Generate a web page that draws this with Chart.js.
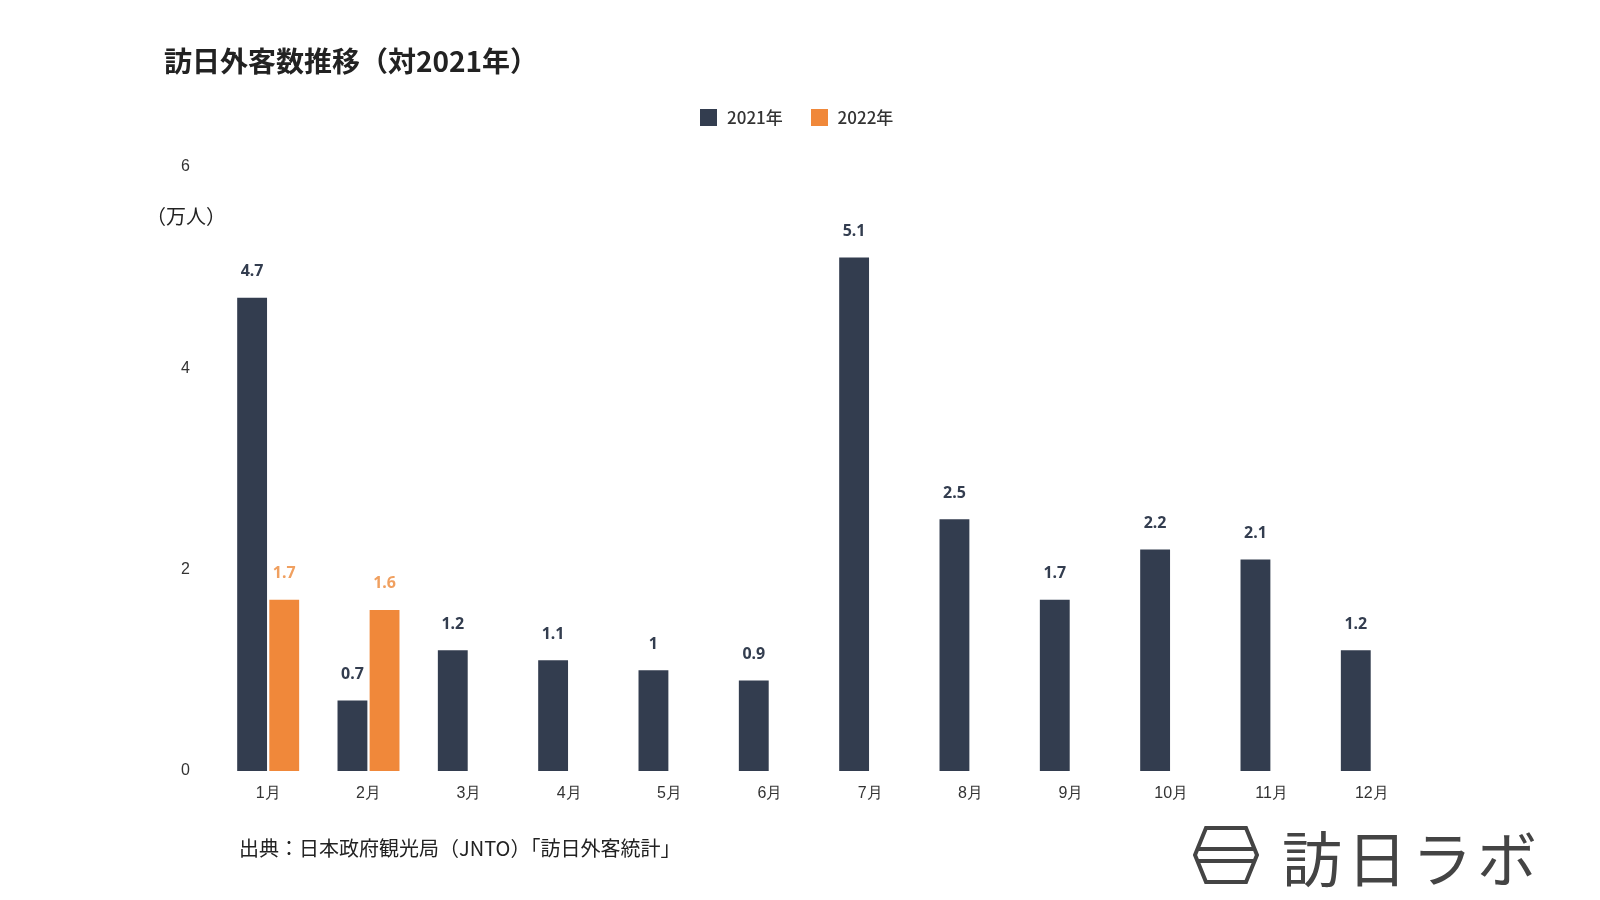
<!DOCTYPE html>
<html>
<head>
<meta charset="utf-8">
<script src="https://cdn.jsdelivr.net/npm/chart.js@4"></script>
<style>
  body { margin: 0; background: #fff; font-family: "Noto Sans CJK JP", "Noto Sans", sans-serif; }
  #wrap { position: relative; width: 1600px; height: 900px; }
  canvas { position: absolute; left: 0; top: 0; }
  .txt { position: absolute; color: #222; white-space: nowrap; }
  .legend span.box { display: inline-block; width: 17px; height: 17px; vertical-align: -2px; margin-right: 10px; }
</style>
</head>
<body>
<div id="wrap">
  <canvas id="myChart" width="1600" height="900"></canvas>
  <div class="txt" style="left:164px;top:40px;font-size:28px;font-weight:bold;">訪日外客数推移（対2021年）</div>
  <div class="txt legend" style="left:700px;top:104px;font-size:17px;color:#333;font-weight:500;">
    <span class="box" style="background:#333d4f"></span>2021年
    <span class="box" style="background:#f0883a;margin-left:24px"></span>2022年
  </div>
  <div class="txt" style="left:146px;top:201px;font-size:20px;">（万人）</div>
  <div class="txt" style="left:239px;top:833px;font-size:20px;">出典：日本政府観光局（JNTO）「訪日外客統計」</div>
  <svg style="position:absolute;left:1191px;top:825px" width="70" height="60">
    <polygon points="15,3 55,3 66,30 55,57 15,57 4,30" fill="none" stroke="#444" stroke-width="4"/>
    <line x1="6" y1="24" x2="64" y2="24" stroke="#444" stroke-width="4"/>
    <line x1="6" y1="36" x2="64" y2="36" stroke="#444" stroke-width="4"/>
  </svg>
  <div class="txt" style="left:1282px;top:812px;font-size:60px;color:#444;letter-spacing:5px;">訪日ラボ</div>
</div>
<script>
const months = ["1月","2月","3月","4月","5月","6月","7月","8月","9月","10月","11月","12月"];
const visitors2021 = [4.7, 0.7, 1.2, 1.1, 1, 0.9, 5.1, 2.5, 1.7, 2.2, 2.1, 1.2];
const visitors2022 = [1.7, 1.6, null, null, null, null, null, null, null, null, null, null];
const yTicks = [0, 2, 4, 6];

const ctx = document.getElementById("myChart");

// ラベルを棒の上に描く
const valueLabels = {
  id: "valueLabels",
  afterDatasetsDraw(chart) {
    const c = chart.ctx;
    c.save();
    c.font = "bold 16px 'Noto Sans', sans-serif";
    c.textAlign = "center";
    c.textBaseline = "bottom";
    chart.data.datasets.forEach((ds, i) => {
      chart.getDatasetMeta(i).data.forEach((bar, j) => {
        if (ds.data[j] == null) return;
        c.fillStyle = i === 0 ? "#333d4f" : "#f0a060";
        c.fillText(String(ds.data[j]), bar.x, bar.y - 18);
      });
    });
    c.restore();
  }
};

new Chart(ctx, {
  type: "bar",
  data: {
    labels: months,
    datasets: [
      { label: "2021年", data: visitors2021, backgroundColor: "#333d4f" },
      { label: "2022年", data: visitors2022, backgroundColor: "#f0883a" }
    ]
  },
  options: {
    responsive: false,
    animation: false,
    layout: { padding: { left: 0, right: 178, top: 167, bottom: 0 } },
    categoryPercentage: 0.64,
    barPercentage: 0.93,
    plugins: { legend: { display: false }, tooltip: { enabled: false } },
    scales: {
      x: {
        grid: { display: false },
        border: { display: false },
        ticks: { color: "#333", font: { size: 16, weight: "500" }, padding: 5 },
        afterFit(scale) { scale.height = 129; }
      },
      y: {
        min: 0, max: 6,
        grid: { display: false },
        border: { display: false },
        afterBuildTicks(scale) { scale.ticks = yTicks.map(v => ({ value: v })); },
        ticks: { color: "#333", font: { size: 16, weight: "500" }, padding: 20 },
        afterFit(scale) { scale.width = 218; }
      }
    }
  },
  plugins: [valueLabels]
});
</script>
</body>
</html>
